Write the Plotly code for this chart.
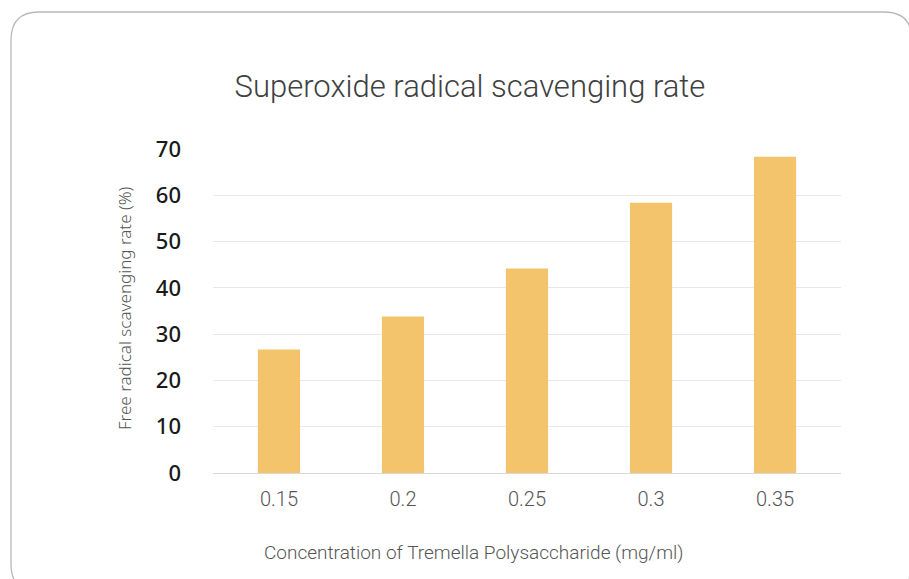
import plotly.graph_objects as go

categories = ["0.15", "0.2", "0.25", "0.3", "0.35"]
values = [26.7, 33.8, 44.2, 58.4, 68.3]
y_ticks = [0, 10, 20, 30, 40, 50, 60, 70]

W, H = 909, 579
L, R, T, B = 213, 68, 149, 106
pw, ph = W - L - R, H - T - B

def px(x):
    return (x - L) / pw

def py(y):
    return (H - B - y) / ph

fig = go.Figure(go.Bar(
    x=categories, y=values, width=0.34,
    marker=dict(color="#F4C46C", line=dict(width=0)),
    hoverinfo="skip",
))

# rounded border box
x0, y0, x1, y1, r = 11, 12, 912, 592, 28
path = (f"M {px(x0+r)},{py(y0)} L {px(x1-r)},{py(y0)} "
        f"Q {px(x1)},{py(y0)} {px(x1)},{py(y0+r)} "
        f"L {px(x1)},{py(y1-r)} Q {px(x1)},{py(y1)} {px(x1-r)},{py(y1)} "
        f"L {px(x0+r)},{py(y1)} Q {px(x0)},{py(y1)} {px(x0)},{py(y1-r)} "
        f"L {px(x0)},{py(y0+r)} Q {px(x0)},{py(y0)} {px(x0+r)},{py(y0)} Z")

LIGHT = "Roboto"

fig.update_layout(
    width=W, height=H,
    margin=dict(l=L, r=R, t=T, b=B, autoexpand=False),
    paper_bgcolor="white", plot_bgcolor="white",
    showlegend=False,
    title=dict(text="Superoxide radical scavenging rate", x=470 / W, xref="container",
               xanchor="center", y=1 - 86 / H, yref="container", yanchor="middle",
               font=dict(family=LIGHT, size=31, color="#404040", weight=300)),
    shapes=[dict(type="path", path=path, xref="paper", yref="paper",
                 line=dict(color="#b8b8b8", width=1.3), layer="below")],
    annotations=[
        dict(text="Concentration of Tremella Polysaccharide (mg/ml)", xref="paper", yref="paper",
             x=px(473), y=py(552), xanchor="center", yanchor="middle", showarrow=False,
             font=dict(family=LIGHT, size=19, color="#555555", weight=300)),
        dict(text="Free radical scavenging rate (%)", xref="paper", yref="paper",
             x=px(124), y=py(309), xanchor="center", yanchor="middle", showarrow=False,
             textangle=-90,
             font=dict(family="Noto Sans", size=17, color="#555555", weight=300)),
    ],
    xaxis=dict(showgrid=False, showline=False, ticks="", zeroline=False,
               range=[-0.532, 4.532],
               tickfont=dict(family=LIGHT, size=20, color="#555555", weight=300),
               ticklabelstandoff=12),
    yaxis=dict(range=[0, 70], tickvals=y_ticks, showgrid=True, gridcolor="#e8e8e8",
               gridwidth=1, zeroline=True, zerolinecolor="#d9d9d9", zerolinewidth=1,
               showline=False, ticks="",
               tickfont=dict(family="Noto Sans", size=22, color="#1a1a1a", weight=500),
               ticklabelstandoff=31),
)

fig.write_html("out.html", config={"displayModeBar": False},
               post_script="document.body.style.margin='0';")
